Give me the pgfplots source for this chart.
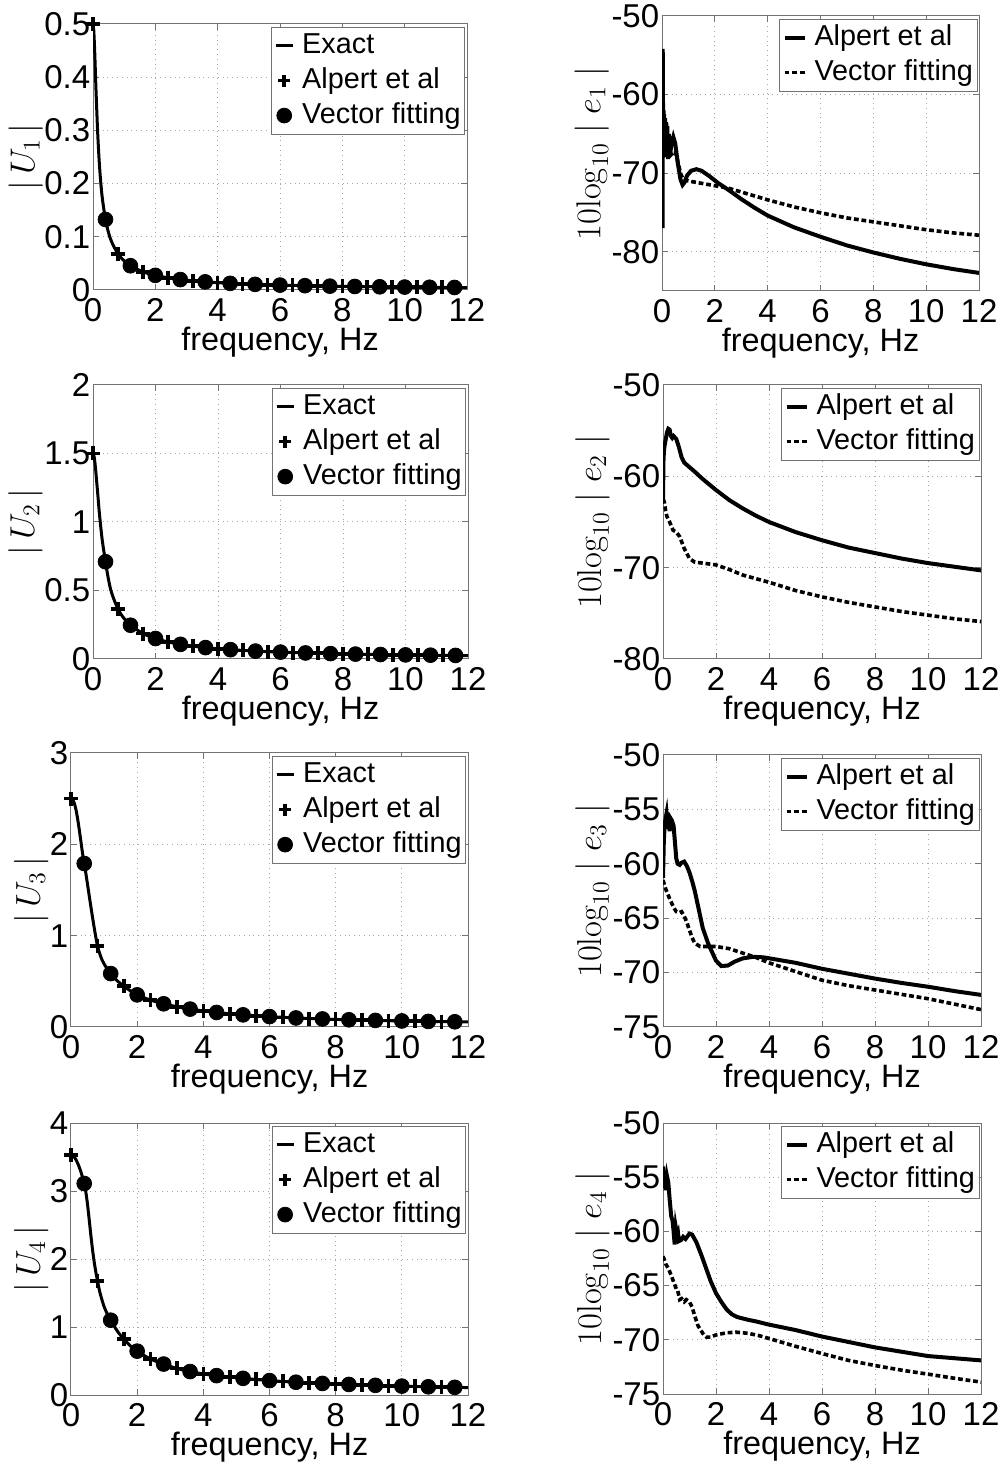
\documentclass[border=0pt]{standalone}
\usepackage[no-math]{fontspec}
\setmainfont{Liberation Sans}
\usepackage{pgfplots}
\pgfplotsset{compat=1.18}

\pgfplotsset{
  mlab/.style={
    scale only axis, anchor=south west,
    xmin=0, xmax=12, xtick={0,2,...,12},
    axis line style={black!55, line width=0.5pt},
    tick style={black!55, line width=0.5pt},
    major tick length=3pt, tick align=inside,
    grid=major, grid style={dotted, black!35, line width=0.5pt},
    /pgf/number format/assume math mode=true,
    ticklabel style={font=\fontsize{16.5}{19}\selectfont},
    yticklabel style={inner xsep=1.2pt},
    xticklabel style={inner ysep=4pt},
    xlabel={frequency, Hz},
    xlabel style={font=\fontsize{16.2}{19}\selectfont, inner sep=0pt, yshift=1.5pt},
    ylabel style={anchor=center},
    legend cell align=left,
    legend style={at={(0.995,0.99)}, anchor=north east, draw=black!55, fill=white,
      font=\fontsize{14.4}{17.5}\selectfont, inner xsep=1.5pt, inner ysep=2pt,
      row sep=3pt, nodes={inner sep=0.5pt, text height=10.5pt, text depth=3pt},
      /tikz/every odd column/.append style={column sep=3.5pt}},
  },
  uax/.style={mlab, ylabel style={font=\fontsize{17}{20}\selectfont}},
  eax/.style={mlab, ylabel style={font=\fontsize{18}{21}\selectfont, at={(axis description cs:-0.222,0.5)}}},
  exact/.style={black, line width=1.5pt, smooth,
    legend image code/.code={\draw[##1] (0.5pt,0pt) -- (9pt,0pt);}},
  alp/.style={black, only marks, mark=+, mark size=3.5pt, mark options={line width=1.8pt},
    legend image code/.code={\draw[mark repeat=2, mark phase=2, ##1, mark size=3pt] plot coordinates {(0pt,0pt) (4.75pt,0pt) (9.5pt,0pt)};}},
  vf/.style={black, only marks, mark=*, mark size=3.7pt,
    legend image code/.code={\draw[mark repeat=2, mark phase=2, ##1] plot coordinates {(0pt,0pt) (4.75pt,0pt) (9.5pt,0pt)};}},
  alpe/.style={black, line width=2pt,
    legend image code/.code={\draw[##1] (0pt,0pt) -- (10pt,0pt);}},
  vfe/.style={black, line width=1.8pt, dash pattern=on 2.4pt off 1.4pt,
    legend image code/.code={\draw[##1] (0pt,0pt) -- (10pt,0pt);}},
}

\begin{document}
\begin{tikzpicture}
\useasboundingbox (0,0) rectangle (502.5pt,731.5pt);

% ---------- row 1 ----------
\begin{axis}[uax, at={(46.5pt,586.5pt)}, width=187pt, height=133pt,
  ymin=0, ymax=0.5, ytick={0,0.1,...,0.5},
  ylabel={$|\,U_1\,|$}, ylabel style={at={(axis description cs:-0.18,0.5)}}]
\addplot[exact] table {
0 0.5
0.025 0.4876
0.05 0.4552
0.075 0.4132
0.1 0.3699
0.15 0.2957
0.2 0.2409
0.25 0.2014
0.3 0.1721
0.4 0.1326
0.5 0.1074
0.6 0.0902
0.8 0.0681
1.0 0.0547
1.2 0.0456
1.6 0.0343
2.0 0.0275
2.4 0.0229
2.8 0.0196
3.2 0.0172
3.6 0.0153
4.0 0.0138
4.4 0.0125
5.2 0.0106
6.0 0.0092
6.8 0.0081
7.6 0.0072
8.4 0.0066
9.2 0.0060
10.0 0.0055
10.8 0.0051
11.6 0.0047
12.0 0.0046
};
\addlegendentry{Exact}
\addplot[alp] table {
0 0.5
0.8 0.0681
1.6 0.0343
2.4 0.0229
3.2 0.0172
4.0 0.0138
4.8 0.0115
5.6 0.0098
6.4 0.0086
7.2 0.0076
8.0 0.0069
8.8 0.0063
9.6 0.0057
10.4 0.0053
11.2 0.0049
};
\addlegendentry{Alpert et al}
\addplot[vf] table {
0.4 0.1326
1.2 0.0456
2.0 0.0275
2.8 0.0196
3.6 0.0153
4.4 0.0125
5.2 0.0106
6.0 0.0092
6.8 0.0081
7.6 0.0072
8.4 0.0066
9.2 0.0060
10.0 0.0055
10.8 0.0051
11.6 0.0047
};
\addlegendentry{Vector fitting}
\end{axis}

\begin{axis}[eax, at={(331pt,586pt)}, width=158.5pt, height=137.5pt,
  ymin=-85, ymax=-50, ytick={-80,-70,-60,-50},
  ylabel={$10\mathrm{log}_{10}\;|\;e_1\;|$}]
\addplot[alpe] table {
0.0 -62
0.008 -60
0.016 -70
0.022 -77
0.028 -54.2
0.034 -66
0.04 -61
0.05 -68
0.06 -62
0.07 -67
0.08 -62.5
0.1 -67.5
0.12 -63
0.14 -68
0.16 -63.5
0.18 -68
0.2 -64
0.23 -68.2
0.26 -65
0.3 -67.8
0.35 -66.5
0.43 -65.4
0.5 -66.2
0.6 -68.8
0.7 -70.8
0.78 -71.5
0.85 -71.2
0.95 -70.3
1.1 -69.7
1.3 -69.5
1.5 -69.7
1.8 -70.4
2.1 -71.2
2.5 -72.1
3.0 -73.3
3.5 -74.4
4.0 -75.4
5.0 -76.9
6.0 -78.1
7.0 -79.2
8.0 -80.1
9.0 -80.9
10.0 -81.6
11.0 -82.2
12.0 -82.7
};
\addlegendentry{Alpert et al}
\addplot[vfe] table {
0 -62
0.05 -63.5
0.1 -65
0.2 -66.5
0.3 -67.8
0.4 -67.5
0.5 -67.2
0.6 -68.5
0.7 -70
0.8 -70.8
1.0 -71.0
1.5 -71.3
2.0 -71.6
2.5 -71.9
3.0 -72.4
4.0 -73.4
5.0 -74.3
6.0 -75.05
7.0 -75.7
8.0 -76.2
9.0 -76.7
10.0 -77.2
11.0 -77.6
12.0 -77.9
};
\addlegendentry{Vector fitting}
\end{axis}

% ---------- row 2 ----------
\begin{axis}[uax, at={(46.5pt,402pt)}, width=187.5pt, height=137pt,
  ymin=0, ymax=2, ytick={0,0.5,...,2},
  ylabel={$|\,U_2\,|$}, ylabel style={at={(axis description cs:-0.18,0.5)}}]
\addplot[exact] table {
0 1.5
0.025 1.4884
0.05 1.4552
0.075 1.4045
0.1 1.3416
0.15 1.21
0.2 1.075
0.25 0.96
0.3 0.86
0.4 0.71
0.5 0.575
0.6 0.48
0.8 0.3638
1.0 0.2942
1.2 0.2466
1.6 0.1860
2.0 0.1493
2.4 0.1246
2.8 0.1069
3.2 0.0936
3.6 0.0832
4.0 0.0749
4.4 0.0681
5.2 0.0576
6.0 0.0500
6.8 0.0441
7.6 0.0395
8.4 0.0357
9.2 0.0326
10.0 0.0300
10.8 0.0278
11.6 0.0259
12.0 0.0250
};
\addlegendentry{Exact}
\addplot[alp] table {
0 1.5
0.8 0.3638
1.6 0.186
2.4 0.1246
3.2 0.0936
4.0 0.0749
4.8 0.0624
5.6 0.0535
6.4 0.0469
7.2 0.0417
8.0 0.0375
8.8 0.0341
9.6 0.0312
10.4 0.0288
11.2 0.0268
};
\addlegendentry{Alpert et al}
\addplot[vf] table {
0.4 0.71
1.2 0.2466
2.0 0.1493
2.8 0.1069
3.6 0.0832
4.4 0.0681
5.2 0.0576
6.0 0.0500
6.8 0.0441
7.6 0.0395
8.4 0.0357
9.2 0.0326
10.0 0.0300
10.8 0.0278
11.6 0.0259
};
\addlegendentry{Vector fitting}
\end{axis}

\begin{axis}[eax, at={(331.5pt,402pt)}, width=159pt, height=137pt,
  ymin=-80, ymax=-50, ytick={-80,-70,-60,-50},
  ylabel={$10\mathrm{log}_{10}\;|\;e_2\;|$}]
\addplot[alpe] table {
0 -62.5
0.02 -58
0.05 -56.8
0.1 -56
0.15 -55.2
0.2 -54.8
0.25 -54.9
0.3 -55.6
0.35 -55.8
0.4 -55.6
0.5 -55.9
0.6 -56.8
0.7 -57.9
0.8 -58.5
1.0 -59.0
1.2 -59.5
1.5 -60.3
2.0 -61.5
2.5 -62.6
3.0 -63.5
3.5 -64.3
4.0 -65.0
5.0 -66.1
6.0 -67.0
7.0 -67.8
8.0 -68.4
9.0 -69.0
10.0 -69.5
11.0 -69.9
12.0 -70.3
};
\addlegendentry{Alpert et al}
\addplot[vfe] table {
0 -62.5
0.05 -62.8
0.1 -63.8
0.15 -64.4
0.25 -65.0
0.38 -65.9
0.5 -66.1
0.63 -66.6
0.8 -67.9
1.0 -69.0
1.2 -69.4
1.5 -69.5
2.0 -69.7
2.5 -70.2
3.0 -70.8
3.5 -71.2
4.0 -71.6
5.0 -72.5
6.0 -73.2
7.0 -73.8
8.0 -74.3
9.0 -74.8
10.0 -75.2
11.0 -75.6
12.0 -75.9
};
\addlegendentry{Vector fitting}
\end{axis}

% ---------- row 3 ----------
\begin{axis}[uax, at={(35.5pt,218pt)}, width=198.5pt, height=137pt,
  ymin=0, ymax=3, ytick={0,1,2,3},
  ylabel={$|\,U_3\,|$}, ylabel style={at={(axis description cs:-0.1,0.5)}}]
\addplot[exact] table {
0 2.50
0.05 2.49
0.1 2.45
0.15 2.38
0.2 2.28
0.25 2.16
0.3 2.03
0.35 1.90
0.4 1.79
0.45 1.68
0.5 1.56
0.6 1.32
0.7 1.09
0.8 0.89
0.9 0.77
1.0 0.69
1.2 0.585
1.4 0.505
1.6 0.446
1.8 0.395
2.0 0.352
2.4 0.295
2.8 0.254
3.2 0.222
3.6 0.196
4.0 0.176
4.4 0.159
4.8 0.145
5.2 0.133
5.6 0.123
6.0 0.114
6.4 0.106
6.8 0.099
7.2 0.093
7.6 0.088
8.0 0.083
8.4 0.079
8.8 0.075
9.2 0.072
9.6 0.069
10.0 0.066
10.4 0.063
10.8 0.061
11.2 0.059
11.6 0.057
12.0 0.055
};
\addlegendentry{Exact}
\addplot[alp] table {
0 2.50
0.8 0.89
1.6 0.446
2.4 0.295
3.2 0.222
4.0 0.176
4.8 0.145
5.6 0.123
6.4 0.106
7.2 0.093
8.0 0.083
8.8 0.075
9.6 0.069
10.4 0.063
11.2 0.059
};
\addlegendentry{Alpert et al}
\addplot[vf] table {
0.4 1.79
1.2 0.585
2.0 0.352
2.8 0.254
3.6 0.196
4.4 0.159
5.2 0.133
6.0 0.114
6.8 0.099
7.6 0.088
8.4 0.079
9.2 0.072
10.0 0.066
10.8 0.061
11.6 0.057
};
\addlegendentry{Vector fitting}
\end{axis}

\begin{axis}[eax, at={(331.5pt,218pt)}, width=159pt, height=136pt,
  ymin=-75, ymax=-50, ytick={-75,-70,...,-50},
  ylabel={$10\mathrm{log}_{10}\;|\;e_3\;|$}]
\addplot[alpe] table {
0 -61.3
0.03 -58
0.06 -56.5
0.1 -55.8
0.13 -55.4
0.17 -56.8
0.2 -55.6
0.25 -57
0.28 -55.8
0.33 -56.0
0.4 -56.5
0.45 -58
0.5 -59.5
0.55 -60.0
0.63 -60.1
0.7 -59.9
0.8 -59.8
0.9 -60.2
1.0 -60.8
1.1 -61.6
1.2 -62.5
1.35 -64.2
1.5 -65.9
1.7 -67.3
1.83 -68.0
2.0 -68.9
2.2 -69.4
2.45 -69.35
2.7 -69.0
3.0 -68.7
3.4 -68.55
3.8 -68.6
4.4 -68.85
5.0 -69.1
6.0 -69.65
7.0 -70.1
8.0 -70.55
9.0 -70.95
10.0 -71.3
11.0 -71.7
12.0 -72.05
};
\addlegendentry{Alpert et al}
\addplot[vfe] table {
0 -61.5
0.1 -62.3
0.25 -63.2
0.4 -64.0
0.5 -64.4
0.6 -64.5
0.7 -64.4
0.8 -64.8
0.9 -65.4
1.0 -66.1
1.1 -66.8
1.2 -67.3
1.4 -67.6
1.7 -67.6
2.0 -67.6
2.5 -67.8
3.0 -68.2
3.5 -68.6
4.0 -69.1
5.0 -69.9
6.0 -70.7
7.0 -71.2
8.0 -71.6
9.0 -72.0
10.0 -72.4
11.0 -72.9
12.0 -73.4
};
\addlegendentry{Vector fitting}
\end{axis}

% ---------- row 4 ----------
\begin{axis}[uax, at={(35.5pt,34pt)}, width=198.5pt, height=136pt,
  ymin=0, ymax=4, ytick={0,1,2,3,4},
  ylabel={$|\,U_4\,|$}, ylabel style={at={(axis description cs:-0.1,0.5)}}]
\addplot[exact] table {
0 3.53
0.05 3.52
0.1 3.50
0.15 3.46
0.2 3.41
0.25 3.35
0.3 3.28
0.35 3.20
0.4 3.11
0.45 2.98
0.5 2.80
0.55 2.58
0.6 2.35
0.65 2.14
0.7 1.96
0.75 1.81
0.8 1.68
0.85 1.56
0.9 1.46
1.0 1.30
1.1 1.19
1.2 1.10
1.4 0.94
1.6 0.82
1.8 0.72
2.0 0.645
2.4 0.53
2.8 0.455
3.2 0.39
3.6 0.345
4.0 0.31
4.4 0.285
4.8 0.265
5.2 0.245
5.6 0.228
6.0 0.212
6.4 0.199
6.8 0.188
7.2 0.178
7.6 0.170
8.0 0.162
8.4 0.155
8.8 0.148
9.2 0.142
9.6 0.136
10.0 0.131
10.4 0.126
10.8 0.121
11.2 0.117
11.6 0.113
12.0 0.109
};
\addlegendentry{Exact}
\addplot[alp] table {
0 3.53
0.8 1.68
1.6 0.82
2.4 0.53
3.2 0.39
4.0 0.31
4.8 0.265
5.6 0.228
6.4 0.199
7.2 0.178
8.0 0.162
8.8 0.148
9.6 0.136
10.4 0.126
11.2 0.117
};
\addlegendentry{Alpert et al}
\addplot[vf] table {
0.4 3.11
1.2 1.10
2.0 0.645
2.8 0.455
3.6 0.345
4.4 0.285
5.2 0.245
6.0 0.212
6.8 0.188
7.6 0.170
8.4 0.155
9.2 0.142
10.0 0.131
10.8 0.121
11.6 0.113
};
\addlegendentry{Vector fitting}
\end{axis}

\begin{axis}[eax, at={(331.5pt,34.5pt)}, width=159pt, height=135.5pt,
  ymin=-75, ymax=-50, ytick={-75,-70,...,-50},
  ylabel={$10\mathrm{log}_{10}\;|\;e_4\;|$}]
\addplot[alpe] table {
0 -54.0
0.03 -56.0
0.06 -54.8
0.1 -56.2
0.15 -54.9
0.2 -55.5
0.25 -57.0
0.31 -58.6
0.36 -59.0
0.4 -60.0
0.44 -61.2
0.48 -59.6
0.52 -60.2
0.56 -60.0
0.6 -60.9
0.68 -60.8
0.76 -60.5
0.85 -60.7
1.0 -60.2
1.1 -60.3
1.26 -61.0
1.45 -62.2
1.64 -63.5
1.8 -64.6
2.0 -65.7
2.2 -66.5
2.4 -67.2
2.6 -67.65
2.8 -67.9
3.2 -68.15
3.5 -68.3
4.0 -68.6
5.0 -69.1
6.0 -69.7
7.0 -70.2
8.0 -70.7
9.0 -71.1
10.0 -71.5
11.0 -71.7
12.0 -71.9
};
\addlegendentry{Alpert et al}
\addplot[vfe] table {
0 -62.3
0.05 -62.6
0.1 -63.0
0.2 -63.4
0.3 -64.0
0.44 -64.9
0.5 -65.3
0.55 -65.4
0.63 -66.3
0.7 -66.2
0.8 -66.5
0.88 -66.3
1.0 -66.5
1.1 -67.0
1.2 -67.8
1.32 -68.7
1.5 -69.4
1.64 -69.75
1.8 -69.75
2.0 -69.55
2.4 -69.35
2.77 -69.3
3.2 -69.4
3.6 -69.6
4.03 -69.9
5.0 -70.6
6.05 -71.3
7.0 -71.9
8.06 -72.4
9.0 -72.8
10.08 -73.2
11.0 -73.55
12.0 -73.9
};
\addlegendentry{Vector fitting}
\end{axis}
\end{tikzpicture}
\end{document}
